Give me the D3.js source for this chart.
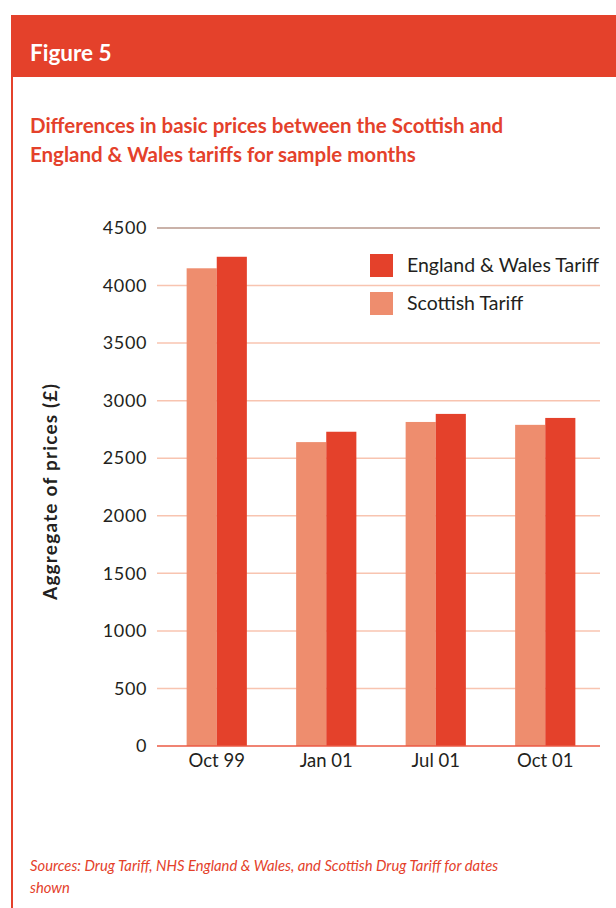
<!DOCTYPE html>
<html>
<head>
<meta charset="utf-8">
<script src="https://cdn.jsdelivr.net/npm/d3@7"></script>
<style>
  html, body { margin: 0; padding: 0; background: #fff; }
  svg { display: block; }
  text { font-family: Lato, "Open Sans", sans-serif; }
</style>
</head>
<body>
<svg id="chart" width="616" height="908"></svg>
<script>
// Sample months and the aggregate basic price (£) under each tariff
const months = ["Oct 99", "Jan 01", "Jul 01", "Oct 01"];
const scottishTariff = [4150, 2640, 2815, 2790];
const englandWalesTariff = [4250, 2730, 2885, 2850];
const seriesNames = ["Scottish Tariff", "England & Wales Tariff"];
const yTicks = [0, 500, 1000, 1500, 2000, 2500, 3000, 3500, 4000, 4500];

const RED = "#e4412b";
const SALMON = "#ee8d6e";
const INK = "#231f20";

const svg = d3.select("#chart");

// Header band with the figure number, and the red rule down the left side
svg.append("rect").attr("x", 11).attr("y", 15).attr("width", 605).attr("height", 62).attr("fill", RED);
svg.append("rect").attr("x", 11).attr("y", 77).attr("width", 2).attr("height", 831).attr("fill", RED);
svg.append("text").attr("x", 30).attr("y", 61)
  .attr("fill", "#fff").attr("font-size", 22.5).attr("font-weight", 700)
  .text("Figure 5");

// Title
const title = svg.append("text").attr("fill", RED).attr("font-size", 20.5).attr("font-weight", 700);
title.append("tspan").attr("x", 30).attr("y", 133).text("Differences in basic prices between the Scottish and");
title.append("tspan").attr("x", 30).attr("y", 162).text("England & Wales tariffs for sample months");

// Scales
const y = d3.scaleLinear().domain([0, 4500]).range([746, 228]);
const x = d3.scaleBand().domain(months).range([162, 600]).paddingInner(0.45).paddingOuter(0.225);
const xs = d3.scaleBand().domain(seriesNames).range([0, x.bandwidth()]);
const colour = d3.scaleOrdinal().domain(seriesNames).range([SALMON, RED]);

// Gridlines
const grid = svg.append("g");
grid.selectAll("line").data(yTicks.filter(t => t > 0)).join("line")
  .attr("x1", 157).attr("x2", 600)
  .attr("y1", d => y(d)).attr("y2", d => y(d))
  .attr("stroke", d => d === 4500 ? "#b8998c" : "#f8c4b0")
  .attr("stroke-width", 1.5);

// Y axis labels
const yAxis = svg.append("g").attr("transform", "translate(157,0)")
  .call(d3.axisLeft(y).tickValues(yTicks).tickSize(0).tickPadding(10).tickFormat(d3.format("d")));
yAxis.select(".domain").remove();
yAxis.selectAll("text").attr("font-size", 18).attr("letter-spacing", 0.6)
  .attr("fill", INK).attr("font-family", "Lato, sans-serif");

svg.append("text")
  .attr("transform", "translate(57,492) rotate(-90)")
  .attr("text-anchor", "middle").attr("font-size", 19).attr("font-weight", 700).attr("fill", INK)
  .attr("textLength", 216).attr("lengthAdjust", "spacing")
  .text("Aggregate of prices (£)");

// Bars
const rows = months.map((m, i) => ({ month: m, values: [scottishTariff[i], englandWalesTariff[i]] }));
const groups = svg.append("g").selectAll("g").data(rows).join("g")
  .attr("transform", d => `translate(${x(d.month)},0)`);
groups.selectAll("rect")
  .data(d => d.values.map((v, k) => ({ name: seriesNames[k], value: v })))
  .join("rect")
  .attr("x", d => xs(d.name))
  .attr("width", xs.bandwidth())
  .attr("y", d => y(d.value))
  .attr("height", d => y(0) - y(d.value))
  .attr("fill", d => colour(d.name));

// Baseline
svg.append("line").attr("x1", 157).attr("x2", 600).attr("y1", y(0)).attr("y2", y(0))
  .attr("stroke", "#eb5a44").attr("stroke-width", 1.5);

// X axis labels
const xAxis = svg.append("g").attr("transform", `translate(0,${y(0)})`)
  .call(d3.axisBottom(x).tickSize(0).tickPadding(8));
xAxis.select(".domain").remove();
xAxis.selectAll("text").attr("font-size", 18.5).attr("fill", INK).attr("font-family", "Lato, sans-serif");

// Legend
const legendItems = [seriesNames[1], seriesNames[0]];
const legend = svg.append("g").selectAll("g").data(legendItems).join("g")
  .attr("transform", (d, i) => `translate(370,${254 + i * 38})`);
legend.append("rect").attr("width", 23).attr("height", 23).attr("fill", d => colour(d));
legend.append("text").attr("x", 37).attr("y", 18).attr("font-size", 19.5).attr("fill", INK).text(d => d);

// Sources note
const note = svg.append("text").attr("fill", RED).attr("font-size", 14.8).attr("font-style", "italic");
note.append("tspan").attr("x", 30).attr("y", 871).text("Sources: Drug Tariff, NHS England & Wales, and Scottish Drug Tariff for dates");
note.append("tspan").attr("x", 30).attr("y", 893).text("shown");
</script>
</body>
</html>
